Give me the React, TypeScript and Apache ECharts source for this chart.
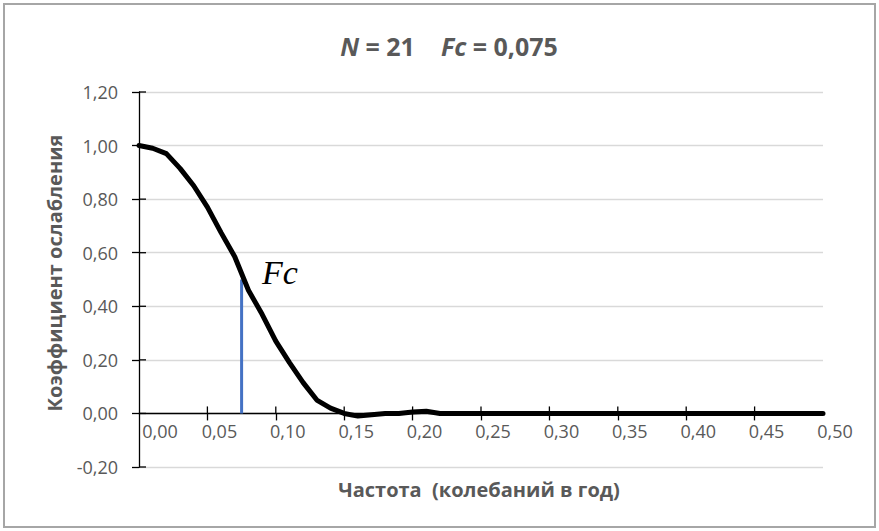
import React, { useEffect, useRef } from "react";
import * as echarts from "echarts";

const freq = [0, 0.01, 0.02, 0.03, 0.04, 0.05, 0.06, 0.07, 0.08, 0.09, 0.1, 0.11, 0.12, 0.13, 0.14, 0.15, 0.16, 0.17, 0.18, 0.19, 0.2, 0.21, 0.22, 0.25, 0.3, 0.35, 0.4, 0.45, 0.5];
const gain = [1.0, 0.99, 0.97, 0.915, 0.85, 0.77, 0.675, 0.585, 0.46, 0.37, 0.27, 0.19, 0.115, 0.05, 0.02, 0.0, -0.01, -0.005, 0.0, 0.0, 0.005, 0.008, 0.0, 0.0, 0.0, 0.0, 0.0, 0.0, 0.0];
const cutoffFreq = 0.075;
const cutoffGain = 0.5;
const xTickValues = [0.05, 0.1, 0.15, 0.2, 0.25, 0.3, 0.35, 0.4, 0.45];
const xLabelValues = [0, 0.05, 0.1, 0.15, 0.2, 0.25, 0.3, 0.35, 0.4, 0.45, 0.5];
const yTickValues = [-0.2, 0, 0.2, 0.4, 0.6, 0.8, 1.0, 1.2];
const titleN = "21";
const titleFc = "0,075";
const yName = "Коэффициент ослабления";
const xName = "Частота  (колебаний в год)";

const fmt = (v: number) => v.toFixed(2).replace(".", ",");
const GRAY = "#595959";
const FONT = "Open Sans";
const TICK = 7;

export default function App() {
  const ref = useRef<HTMLDivElement>(null);
  useEffect(() => {
    document.body.style.margin = "0";
    const chart = echarts.init(ref.current!, null, { renderer: "svg" });
    chart.setOption({
      animation: false,
      backgroundColor: "#ffffff",
      grid: { left: 139, right: 56, top: 92, bottom: 64 },
      xAxis: {
        type: "value",
        min: 0,
        max: 0.5,
        interval: 0.05,
        splitLine: { show: false },
        axisLine: { show: true, onZero: true, lineStyle: { color: "#000", width: 1.3 } },
        axisTick: { show: true, length: TICK, customValues: xTickValues, lineStyle: { color: "#000", width: 1.3 } },
        axisLabel: { show: false },
      },
      yAxis: {
        type: "value",
        min: -0.2,
        max: 1.2,
        interval: 0.2,
        axisLine: { show: true, onZero: false, lineStyle: { color: "#000", width: 1.3 } },
        axisTick: { show: true, length: TICK, lineStyle: { color: "#000", width: 1.3 } },
        axisLabel: { color: GRAY, fontFamily: FONT, fontSize: 18, margin: 21, formatter: fmt },
        splitLine: { show: true, lineStyle: { color: "#d9d9d9", width: 1.3 } },
      },
      title: {
        text: "{i|N} = " + titleN + "    {i|Fc} = " + titleFc,
        left: 444,
        textAlign: "center",
        top: 28,
        textStyle: {
          color: GRAY,
          fontFamily: FONT,
          fontWeight: "bold",
          fontSize: 25,
          rich: {
            i: { color: GRAY, fontFamily: FONT, fontWeight: "bold", fontStyle: "italic", fontSize: 25 },
          },
        },
      },
      graphic: [
        {
          type: "rect",
          shape: { x: 4, y: 4, width: 871, height: 523 },
          style: { fill: "none", stroke: "#a6a6a6", lineWidth: 2 },
          z: -1,
        },
        {
          type: "text",
          x: 54,
          y: 273,
          rotation: Math.PI / 2,
          style: { text: yName, fill: GRAY, font: `bold 20px "${FONT}"`, align: "center", verticalAlign: "middle" },
        },
        {
          type: "text",
          x: 479,
          y: 489,
          style: { text: xName, fill: GRAY, font: `bold 20px "${FONT}"`, align: "center", verticalAlign: "middle" },
        },
        {
          type: "text",
          x: 262,
          y: 272,
          style: { text: "Fc", fill: "#000", font: `italic 34px "Liberation Serif"`, align: "left", verticalAlign: "middle" },
        },
      ],
      series: [
        {
          type: "custom",
          silent: true,
          data: xTickValues,
          renderItem: (params: any, api: any) => {
            const p = api.coord([api.value(0), 0]);
            return {
              type: "line",
              shape: { x1: p[0], y1: p[1], x2: p[0], y2: p[1] - TICK },
              style: { stroke: "#000", lineWidth: 1.3 },
            };
          },
          z: 4,
        },
        {
          type: "custom",
          silent: true,
          data: yTickValues,
          renderItem: (params: any, api: any) => {
            const p = api.coord([0, api.value(0)]);
            return {
              type: "line",
              shape: { x1: p[0], y1: p[1], x2: p[0] + TICK, y2: p[1] },
              style: { stroke: "#000", lineWidth: 1.3 },
            };
          },
          encode: { x: -1, y: 0 },
          z: 4,
        },
        {
          type: "custom",
          silent: true,
          clip: false,
          data: xLabelValues,
          renderItem: (params: any, api: any) => {
            const v = api.value(0);
            const p = api.coord([v, 0]);
            return {
              type: "text",
              x: p[0] + (v === 0 ? 21 : 12),
              y: p[1] + 9,
              style: {
                text: fmt(v),
                fill: GRAY,
                font: `18px "${FONT}"`,
                align: "center",
                verticalAlign: "top",
              },
            };
          },
          z: 4,
        },
        {
          type: "line",
          data: [[cutoffFreq, 0], [cutoffFreq, cutoffGain]],
          showSymbol: false,
          lineStyle: { color: "#4472c4", width: 3 },
          z: 2,
        },
        {
          type: "line",
          data: freq.map((f, i) => [f, gain[i]]),
          showSymbol: false,
          lineStyle: { color: "#000", width: 5, join: "round", cap: "round" },
          z: 3,
        },
      ],
    });
    return () => chart.dispose();
  }, []);
  return <div ref={ref} style={{ position: "fixed", left: 0, top: 0, width: 879, height: 531 }} />;
}
